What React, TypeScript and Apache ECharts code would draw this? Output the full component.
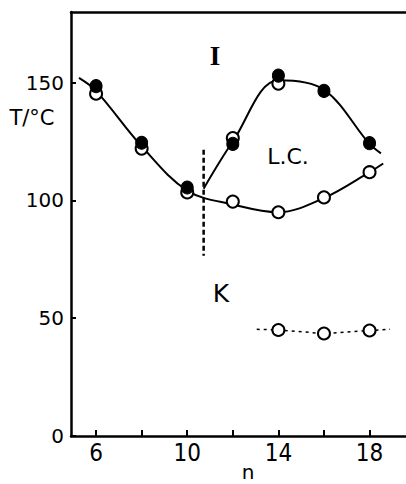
import React, { useEffect, useRef } from "react";
import * as echarts from "echarts";

const X_TICKS = [6, 8, 10, 12, 14, 16, 18];
const X_LABELS = [6, 10, 14, 18];
const Y_LABELS = [0, 50, 100, 150];

// markers
const FILLED = [[6, 148.5], [8, 124.5], [10, 105.5], [12, 124], [14, 153], [16, 146.5], [18, 124.3]];
const OPEN_UPPER = [[6, 145.3], [8, 122], [10, 103.4], [12, 126.5], [14, 149.6]];
const OPEN_LOWER = [[12, 99.5], [14, 95], [16, 101.3], [18, 112]];
const OPEN_K = [[14, 45], [16, 43.5], [18, 44.8]];

// drawn curves
const CURVE_MAIN = [[5.25, 152], [6, 146.5], [8, 123], [10, 104.2], [12, 98.3], [14, 95], [16, 101], [18, 112], [18.6, 115.7]];
const CURVE_LC = [[10.72, 105], [12, 125], [14, 151], [16, 147], [18, 124], [18.5, 120]];
const CURVE_K = [[13.05, 45.3], [14, 45], [16, 43.5], [18, 44.8], [18.9, 45.3]];
const BOUNDARY = [[10.72, 121.5], [10.72, 76.5]];

const FONT = "'DejaVu Sans', sans-serif";

export default function App() {
  const ref = useRef<HTMLDivElement>(null);
  useEffect(() => {
    if (!ref.current) return;
    const chart = echarts.init(ref.current, null, { renderer: "svg" });
    const black = "#000";
    const lineSeries = (data: number[][], smooth: number | boolean, style: any, z = 2) => ({
      type: "line",
      data,
      smooth,
      symbol: "none",
      silent: true,
      z,
      lineStyle: { color: black, opacity: 1, ...style },
    });
    const openStyle = { color: "#fff", borderColor: black, borderWidth: 2, opacity: 1 };
    chart.setOption({
      animation: false,
      backgroundColor: "#fff",
      grid: { left: 71, right: 0, top: 12, bottom: 48, containLabel: false },
      xAxis: [
        {
          type: "value",
          min: 4.9,
          max: 19.6,
          axisLine: { show: true, lineStyle: { color: black, width: 2.5 } },
          axisTick: {
            show: true,
            inside: true,
            length: 6,
            customValues: X_TICKS,
            lineStyle: { color: black, width: 2 },
          },
          axisLabel: {
            customValues: X_LABELS,
            color: black,
            fontSize: 24,
            fontFamily: "'Liberation Sans Narrow', 'DejaVu Sans Condensed', sans-serif",
            margin: 5,
          },
          splitLine: { show: false },
        },
        {
          type: "value",
          position: "top",
          min: 4.9,
          max: 19.6,
          axisLine: { show: true, lineStyle: { color: black, width: 2.5 } },
          axisTick: { show: false },
          axisLabel: { show: false },
          splitLine: { show: false },
        },
      ],
      yAxis: {
        type: "value",
        min: 0,
        max: 180,
        axisLine: { show: true, lineStyle: { color: black, width: 2.5 } },
        axisTick: {
          show: true,
          inside: true,
          length: 5,
          customValues: Y_LABELS,
          lineStyle: { color: black, width: 2 },
        },
        axisLabel: {
          customValues: Y_LABELS,
          color: black,
          fontSize: 20,
          fontFamily: FONT,
          margin: 7,
        },
        splitLine: { show: false },
      },
      series: [
        lineSeries(CURVE_MAIN, 0.35, { width: 2 }),
        lineSeries(CURVE_LC, 0.35, { width: 2 }),
        lineSeries(CURVE_K, false, { width: 1.5, type: [3, 4] }),
        {
          type: "line",
          data: BOUNDARY,
          symbol: "none",
          silent: true,
          z: 2,
          lineStyle: { color: black, width: 2.5, type: [5, 3], opacity: 1 },
        },
        { type: "scatter", data: OPEN_UPPER, symbol: "circle", symbolSize: 12, z: 3, itemStyle: openStyle },
        { type: "scatter", data: OPEN_LOWER, symbol: "circle", symbolSize: 12, z: 3, itemStyle: openStyle },
        { type: "scatter", data: OPEN_K, symbol: "circle", symbolSize: 12, z: 3, itemStyle: openStyle },
        {
          type: "scatter",
          data: FILLED,
          symbol: "circle",
          symbolSize: [12, 13],
          z: 4,
          itemStyle: { color: black, borderColor: black, borderWidth: 1, opacity: 1 },
        },
      ],
      graphic: [
        {
          type: "text",
          x: 32,
          y: 118,
          style: { text: "T/°C", fill: black, font: `21px ${FONT}`, align: "center", verticalAlign: "middle" },
        },
        {
          type: "text",
          x: 215,
          y: 56,
          style: { text: "I", fill: black, font: `bold 27px 'Liberation Serif', serif`, align: "center", verticalAlign: "middle" },
        },
        {
          type: "text",
          x: 288,
          y: 156,
          style: { text: "L.C.", fill: black, font: `22px ${FONT}`, align: "center", verticalAlign: "middle" },
        },
        {
          type: "text",
          x: 221,
          y: 293,
          style: { text: "K", fill: black, font: `25px ${FONT}`, align: "center", verticalAlign: "middle" },
        },
        {
          type: "text",
          x: 248,
          y: 472,
          style: { text: "n", fill: black, font: `20px ${FONT}`, align: "center", verticalAlign: "middle" },
        },
      ],
    });
    return () => chart.dispose();
  }, []);
  return <div ref={ref} style={{ width: 406, height: 484, position: "absolute", left: 0, top: 0 }} />;
}
